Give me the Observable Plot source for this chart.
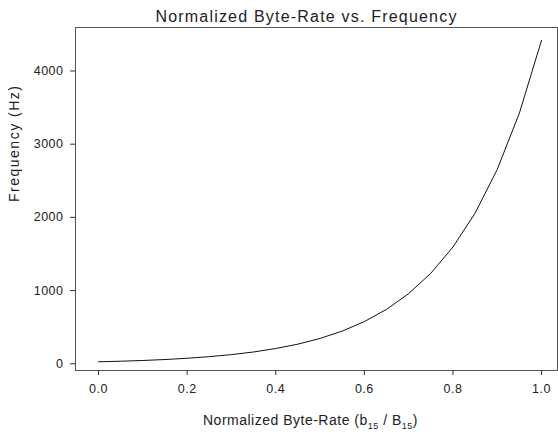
<!DOCTYPE html>
<html>
<head>
<meta charset="utf-8">
<script src="https://cdn.jsdelivr.net/npm/d3@7"></script>
<script src="https://cdn.jsdelivr.net/npm/@observablehq/plot@0.6"></script>
<style>
  html, body { margin: 0; padding: 0; background: #fff; }
  svg { font-family: "Liberation Sans", Arial, sans-serif; }
</style>
</head>
<body>
<div id="chart"></div>
<script>
const byteRate = [0.0, 0.05, 0.10, 0.15, 0.20, 0.25, 0.30, 0.35, 0.40, 0.45, 0.50,
                  0.55, 0.60, 0.65, 0.70, 0.75, 0.80, 0.85, 0.90, 0.95, 1.0];
const frequency = [27, 35, 45, 58, 75, 97, 125, 161, 208, 268, 346,
                   446, 576, 743, 958, 1236, 1595, 2058, 2655, 3425, 4420];
const xTicks = [0.0, 0.2, 0.4, 0.6, 0.8, 1.0];
const yTicks = [0, 1000, 2000, 3000, 4000];
const titleText = "Normalized Byte-Rate vs. Frequency";
const xLabel = "Normalized Byte-Rate (b15 / B15)";
const yLabel = "Frequency (Hz)";

const data = byteRate.map((x, i) => ({x, y: frequency[i]}));

const chart = Plot.plot({
  width: 558,
  height: 434,
  marginLeft: 75,
  marginRight: 1,
  marginTop: 27,
  marginBottom: 64,
  style: {fontFamily: '"Liberation Sans", Arial, sans-serif', background: "#fff"},
  x: {domain: [-0.052, 1.036], label: null},
  y: {domain: [-92, 4594], label: null},
  marks: [
    Plot.frame({stroke: "#555", strokeWidth: 1}),
    Plot.axisX(xTicks, {tickSize: 5, tickPadding: 9, tickFormat: d3.format(".1f"), fontSize: 12.5, fill: "#222", stroke: "#333", className: "xt"}),
    Plot.axisY(yTicks, {tickSize: 5, tickPadding: 7, tickFormat: d => String(d), fontSize: 12.5, fill: "#222", stroke: "#333", className: "yt"}),
    Plot.line(data, {x: "x", y: "y", stroke: "#111", strokeWidth: 1}),
    Plot.text([titleText], {frameAnchor: "top", dx: -10, dy: -17, fontSize: 16, fill: "#222", text: d => d, className: "ttl"}),
    Plot.text([xLabel], {frameAnchor: "bottom", dx: -6, dy: 54, fontSize: 14, fill: "#222", text: d => d, className: "xlab"}),
    Plot.text([yLabel], {frameAnchor: "left", dx: -61, dy: 3, rotate: -90, fontSize: 14, fill: "#222", text: d => d, className: "ylab"})
  ]
});
document.getElementById("chart").appendChild(chart);

const svg = d3.select(chart);
svg.selectAll(".ttl text").style("letter-spacing", "1.2px");
svg.selectAll(".ylab text").style("letter-spacing", "1.5px");
svg.selectAll(".xt text, .yt text").style("letter-spacing", "0.5px");

// render subscripts in x label
svg.selectAll(".xlab text").style("letter-spacing", "0.5px").each(function() {
  const t = d3.select(this);
  t.text(null);
  t.append("tspan").text("Normalized Byte-Rate (b");
  t.append("tspan").attr("font-size", 9).attr("dy", 4).text("15");
  t.append("tspan").attr("dy", -4).text(" / B");
  t.append("tspan").attr("font-size", 9).attr("dy", 4).text("15");
  t.append("tspan").attr("dy", -4).text(")");
});
</script>
</body>
</html>
